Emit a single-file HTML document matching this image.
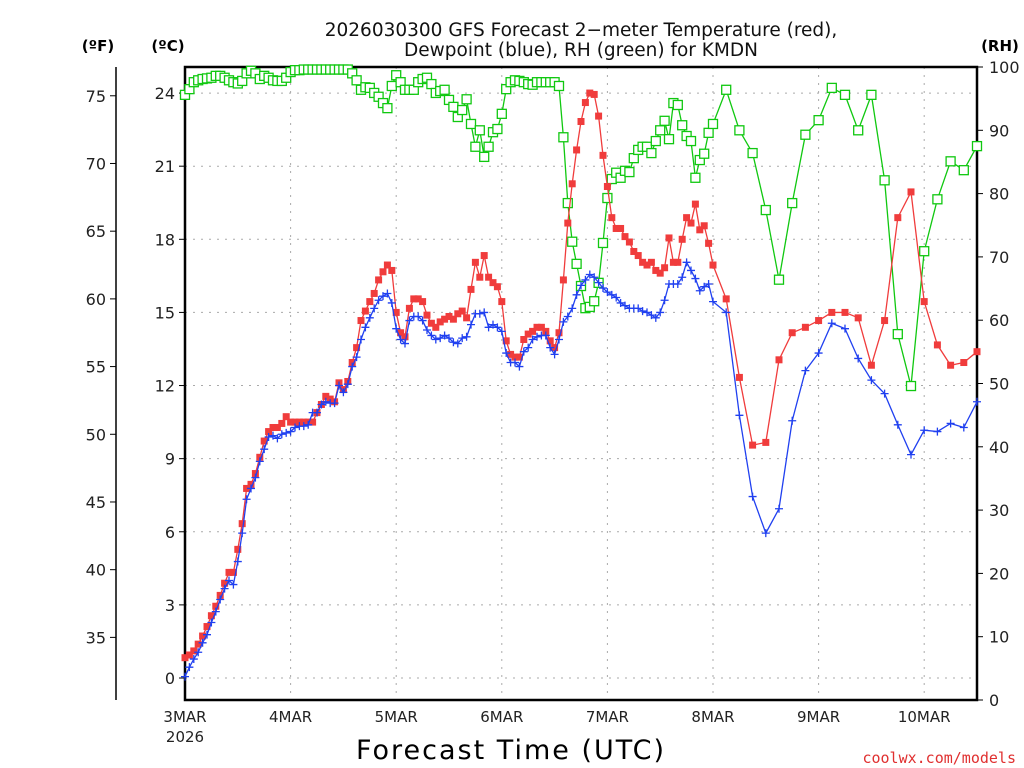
<!DOCTYPE html>
<html><head><meta charset="utf-8"><style>
body{margin:0;background:#fff;}
svg{display:block;font-family:"DejaVu Sans","Liberation Sans",sans-serif;}
</style></head><body>
<svg id="c" width="1024" height="768"></svg>
<script>
const tempF=[33.5,33.7,34,34.5,35.1,35.8,36.6,37.3,38.1,39,39.8,39.8,41.5,43.4,46,46.3,47.1,48.3,49.5,50.2,50.5,50.5,50.8,51.3,50.9,50.9,50.9,50.9,50.9,50.9,51.6,52.2,52.8,52.6,52.4,53.8,53.3,53.9,55.3,56.4,58.4,59.1,59.8,60.4,61.4,62,62.5,62.1,59,57.5,57.2,59.3,60,60,59.8,58.8,58.2,57.9,58.3,58.5,58.7,58.5,58.9,59.1,58.6,60.7,62.7,61.6,63.2,61.6,61.2,60.9,59.8,56.9,55.9,55.7,55.7,57,57.4,57.6,57.9,57.9,57.6,56.9,56.4,57.5,
61.4,65.6,68.5,71,73.1,74.5,75.2,75.1,73.5,70.6,68.3,66,65.2,65.2,64.6,64.2,63.5,63.2,62.7,62.5,62.7,62.1,61.9,62.3,64.5,62.7,62.7,64.4,66,65.6,67,65.1,65.4,64.1,62.5,
60,54.2,49.2,49.4,55.5,57.5,57.9,58.4,59,59,58.6,55.1,58.4,66,67.9,59.8,56.6,55.1,55.3,56.1];
const dewF=[32.1,32.8,33.4,33.9,34.6,35.2,36.1,36.9,37.8,38.6,39.2,38.9,40.6,42.7,45.2,46,46.8,48,48.9,49.8,49.9,49.7,50,50.1,50.2,50.5,50.6,50.6,50.7,51.6,51.6,52.2,52.4,52.3,52.3,53.6,53.1,53.7,55,55.7,57,57.9,58.6,59.3,59.9,60.2,60.4,59.7,57.8,57,56.7,58.4,58.7,58.7,58.4,57.7,57.3,57,57.1,57.3,57.1,56.8,56.7,57.1,57.2,58.1,58.9,58.9,59,57.9,58.1,57.9,57.6,56,55.3,55.3,55,56.1,56.4,57,57.2,57.3,57.3,56.4,55.9,57,
58.3,58.7,59.3,60.3,61,61.4,61.8,61.6,61.2,60.8,60.5,60.3,60.1,59.7,59.5,59.3,59.3,59.3,59.1,59,58.8,58.6,59,59.9,61.1,61.1,61.1,61.6,62.7,62.1,61.5,60.6,60.9,61.1,59.8,
59,51.4,45.4,42.7,44.5,51,54.7,56,58.2,57.8,55.6,54,53,50.7,48.5,50.3,50.2,50.8,50.5,52.4];
const rh=[95.6,96.5,97.6,97.9,98.1,98.2,98.3,98.6,98.6,98.3,97.9,97.6,97.4,97.8,99,99.4,99,98.1,98.6,98.3,97.9,97.8,97.8,98.3,99.2,99.5,99.5,99.6,99.6,99.6,99.6,99.6,99.6,99.6,99.6,99.6,99.6,99.6,99,97.9,96.4,96.8,96.7,95.9,95.3,94.3,93.5,97,98.7,97.6,96.4,96.4,96.4,97.6,98.1,98.3,97.3,95.9,96.2,96.4,94.8,93.7,92.1,93.2,94.9,91,87.4,90,85.8,87.4,89.7,90.2,92.6,96.5,97.6,97.9,97.8,97.6,97.3,97.2,97.6,97.6,97.6,97.6,97.6,97,
88.9,78.5,72.4,68.9,65.4,61.9,62.1,63,65.9,72.2,79.3,82.3,83.3,82.5,83.6,83.4,85.6,86.9,87.4,87.4,86.4,88.3,90,91.5,88.6,94.3,94,90.8,89.1,88.3,82.5,85.3,86.3,89.6,91,
96.4,90,86.4,77.4,66.4,78.5,89.3,91.6,96.7,95.6,90,95.6,82.1,57.8,49.6,70.9,79.1,85.1,83.7,87.5];
const dayLabels=["3MAR","4MAR","5MAR","6MAR","7MAR","8MAR","9MAR","10MAR"];
const cTicks=[0,3,6,9,12,15,18,21,24];
const fTicks=[35,40,45,50,55,60,65,70,75];
const rhTicks=[0,10,20,30,40,50,60,70,80,90,100];

const NS="http://www.w3.org/2000/svg",svg=document.getElementById('c');
const L=185,R=977,T=67,B=700;
function hourAt(i){return i<=120?i:120+3*(i-120);}
const xh=h=>L+h*(R-L)/180;
const yF=f=>678-(f-32)*13.54;
const yC=c=>yF(c*9/5+32);
const yRH=r=>B-r*(B-T)/100;
function el(tag,a,txt){const e=document.createElementNS(NS,tag);for(const k in a)e.setAttribute(k,a[k]);if(txt!=null)e.textContent=txt;svg.appendChild(e);return e;}
cTicks.forEach(c=>{const g=el('line',{x1:L,x2:R,y1:yC(c),y2:yC(c),stroke:'#aaa','stroke-dasharray':'2,6'});});
dayLabels.forEach((d,i)=>{const x=xh(i*24);if(i>0){const g=el('line',{x1:x,x2:x,y1:T,y2:B,stroke:'#aaa','stroke-dasharray':'2,6'});}
const t=el('text',{x:x,y:722,'text-anchor':'middle','font-size':15,fill:'#222'},d);});
const yr=el('text',{x:185,y:742,'text-anchor':'middle','font-size':15,fill:'#222'},'2026');
el('line',{x1:116,x2:116,y1:67,y2:700,stroke:'#000','stroke-width':1.5});
el('rect',{x:L,y:T,width:R-L,height:B-T,fill:'none',stroke:'#000','stroke-width':2.5});
cTicks.forEach(c=>{el('line',{x1:179,x2:185,y1:yC(c),y2:yC(c),stroke:'#000'});const t=el('text',{x:175,y:yC(c)+6,'text-anchor':'end','font-size':16,fill:'#222'},String(c));});
fTicks.forEach(f=>{el('line',{x1:110,x2:116,y1:yF(f),y2:yF(f),stroke:'#000'});const t=el('text',{x:106,y:yF(f)+6,'text-anchor':'end','font-size':16,fill:'#222'},String(f));});
rhTicks.forEach(r=>{el('line',{x1:977,x2:983,y1:yRH(r),y2:yRH(r),stroke:'#000'});const t=el('text',{x:989,y:yRH(r)+6,'font-size':16,fill:'#222'},String(r));});
function series(vals,yf,color,name,marker){
  const pts=vals.map((v,i)=>[xh(hourAt(i)),yf(v)]);
  const p=el('polyline',{points:pts.map(p=>p.join(',')).join(' '),fill:'none',stroke:color,'stroke-width':1.3});
  
  pts.forEach(([x,y])=>{let m;
    if(marker==='fill')m=el('rect',{x:x-3.5,y:y-3.5,width:7,height:7,fill:color});
    else if(marker==='open')m=el('rect',{x:x-4.5,y:y-4.5,width:9,height:9,fill:'#fff',stroke:color,'stroke-width':1.3});
    else m=el('path',{d:`M${x-4},${y}H${x+4}M${x},${y-4}V${y+4}`,stroke:color,'stroke-width':1.3});
    });
}
series(rh,yRH,'#10c810','rh','open');
series(tempF,yF,'#f03c3c','temperature','fill');
series(dewF,yF,'#2040f0','dewpoint','plus');
</script>
<svg style="position:absolute;left:0;top:0" width="1024" height="768">
<text x="581" y="36" text-anchor="middle" font-size="18.5" fill="#111" font-family="DejaVu Sans,sans-serif">2026030300 GFS Forecast 2−meter Temperature (red),</text>
<text x="581" y="56" text-anchor="middle" font-size="18.5" fill="#111" font-family="DejaVu Sans,sans-serif">Dewpoint (blue), RH (green) for KMDN</text>
<text x="98" y="51" text-anchor="middle" font-size="15" font-weight="bold" font-family="DejaVu Sans,sans-serif">(ºF)</text>
<text x="168" y="51" text-anchor="middle" font-size="15" font-weight="bold" font-family="DejaVu Sans,sans-serif">(ºC)</text>
<text x="1000" y="51" text-anchor="middle" font-size="15" font-weight="bold" font-family="DejaVu Sans,sans-serif">(RH)</text>
<text x="511" y="759" text-anchor="middle" font-size="27" fill="#000" font-family="DejaVu Sans,sans-serif" letter-spacing="2">Forecast Time (UTC)</text>
<text x="1016" y="763" text-anchor="end" font-size="15" fill="#e03030" font-family="DejaVu Sans Mono,monospace">coolwx.com/models</text>
</svg>
</body></html>
